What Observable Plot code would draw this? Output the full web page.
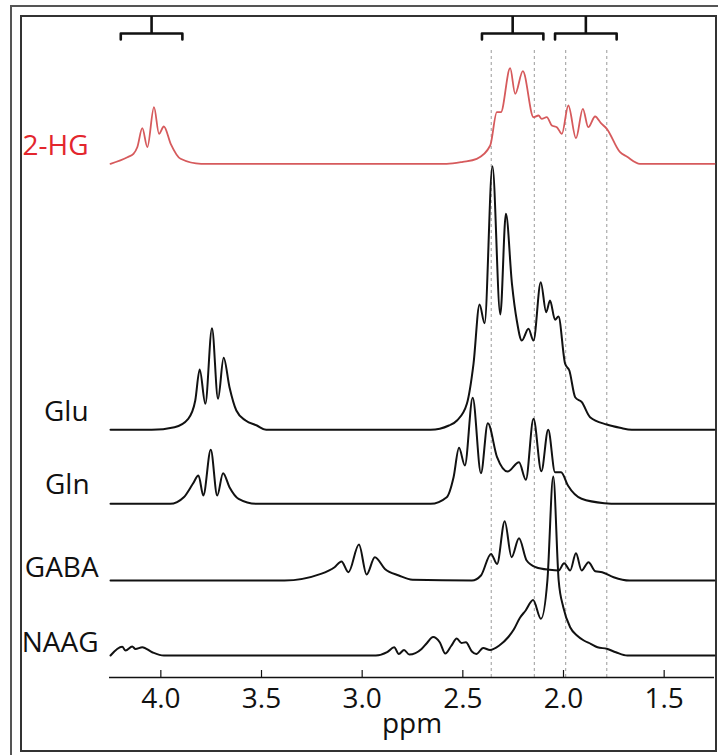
<!DOCTYPE html>
<html><head><meta charset="utf-8">
<script src="https://cdn.jsdelivr.net/npm/d3@7"></script>
<script src="https://cdn.jsdelivr.net/npm/@observablehq/plot@0.6"></script>
<style>
body{margin:0;background:#fff;width:718px;height:755px;overflow:hidden;position:relative;font-family:"Open Sans",sans-serif;}
#outer{position:absolute;left:10px;top:5px;width:720px;height:770px;border:2px solid #555;box-sizing:border-box;}
#inner{position:absolute;left:20px;top:15px;width:697px;height:737px;border:2px solid #333;box-sizing:border-box;}
#chart{position:absolute;left:0;top:0;}
</style></head><body>
<div id="outer"></div><div id="inner"></div><div id="chart"></div>
<script>
// ---- data (ppm, intensity above each trace's baseline) ----
const names = ["2-HG", "Glu", "Gln", "GABA", "NAAG"];
const tickValues = [4.0, 3.5, 3.0, 2.5, 2.0, 1.5];
const dashPpm = [2.359, 2.145, 1.989, 1.785];
const bracketRanges = [[4.199, 3.893], [2.405, 2.100], [2.042, 1.736]];

const hg2 = [[4.25,0],[4.166,6.6],[4.136,10],[4.117,16.6],[4.092,35.6],[4.067,16.6],[4.034,56.6],[4.009,30],[3.985,37.3],[3.951,20],[3.902,5],[3.80,0],[2.58,0],[2.50,2],[2.431,5],[2.364,18.3],[2.331,51.6],[2.311,51.6],[2.265,95.6],[2.240,70],[2.202,92.6],[2.149,46.6],[2.124,48.3],[2.108,45],[2.083,46.6],[2.058,38.3],[2.033,36.6],[2.008,30],[1.976,58.3],[1.938,25.6],[1.904,55],[1.877,36.6],[1.843,47.3],[1.814,40.6],[1.785,35],[1.719,11.6],[1.686,7.3],[1.620,0],[1.25,0]];

const glu = [[4.25,0],[4.045,0],[3.932,2.6],[3.864,11],[3.829,29.3],[3.807,60.3],[3.779,26],[3.746,101.6],[3.716,31],[3.688,72],[3.659,42.6],[3.625,19.3],[3.579,9.3],[3.523,4.3],[3.477,0],[2.660,0],[2.569,4.3],[2.529,9.3],[2.480,26],[2.447,66],[2.417,125.3],[2.392,106.6],[2.353,263.6],[2.314,115.3],[2.286,216],[2.256,146],[2.232,109.3],[2.207,89.3],[2.174,101],[2.149,89.3],[2.113,147.6],[2.086,117.6],[2.067,129.3],[2.042,110],[2.025,113.3],[1.992,66],[1.971,59.3],[1.942,32.6],[1.909,27.6],[1.868,12.6],[1.785,5.3],[1.719,2],[1.661,0],[1.25,0]];

const gln = [[4.25,0],[3.954,0],[3.886,6.6],[3.841,20],[3.813,28.3],[3.789,8.3],[3.752,54],[3.720,8.3],[3.691,30.6],[3.659,16.6],[3.614,5],[3.523,0],[2.660,0],[2.580,6.6],[2.546,26.6],[2.519,56],[2.490,38.3],[2.451,106],[2.410,30.6],[2.376,80.6],[2.330,46.6],[2.278,32.3],[2.221,41.6],[2.187,24],[2.149,85],[2.110,32.6],[2.076,74],[2.042,31.6],[2.012,31.6],[1.978,18.3],[1.910,5],[1.797,0.6],[1.729,0],[1.25,0]];

const gaba = [[4.25,0],[3.386,0],[3.205,6.6],[3.137,13.3],[3.103,19],[3.068,8.3],[3.016,36],[2.978,6],[2.937,23.3],[2.887,11.6],[2.818,5],[2.750,0.7],[2.455,0],[2.410,5],[2.360,26.6],[2.330,16.6],[2.292,59.3],[2.258,23.3],[2.221,42.3],[2.183,20],[2.137,13.3],[2.069,10.7],[2.024,10],[1.997,17.3],[1.967,10],[1.938,27.3],[1.910,10],[1.876,18.3],[1.842,9.3],[1.808,8.3],[1.751,3.3],[1.672,0],[1.25,0]];

const naag = [[4.25,0],[4.192,8.7],[4.175,5],[4.142,9],[4.126,6.5],[4.092,8.3],[4.043,3.3],[3.985,0],[2.932,0],[2.876,3.3],[2.841,8.3],[2.818,1.5],[2.792,5.5],[2.766,1],[2.705,6.5],[2.678,12.5],[2.648,18.5],[2.614,13],[2.587,2],[2.558,9.5],[2.530,17],[2.507,12.5],[2.485,13.3],[2.455,4],[2.433,1.5],[2.399,7.5],[2.365,5.5],[2.319,10],[2.274,18.5],[2.247,26],[2.217,37.5],[2.188,45],[2.151,55.5],[2.112,36.7],[2.080,75],[2.051,179],[2.024,75],[2.001,48.3],[1.967,28.3],[1.933,20],[1.899,15],[1.865,11.7],[1.831,8.3],[1.785,6.7],[1.740,3.3],[1.683,0],[1.25,0]];

// ---- layout (not data) ----
const series = [hg2, glu, gln, gaba, naag];
const offsets = [513.7, 247.7, 173.7, 97, 22];
const colors = ["#d65a5c", "#111", "#111", "#111", "#111"];
const labelColors = ["#e3262d", "#111", "#111", "#111", "#111"];
const labelX = [4.359, 4.359, 4.354, 4.309, 4.309];
const labelY = [17.6, 17.6, 18.3, 12, 12];

const rows = series.map((pts, i) => pts.map(([ppm, v]) => ({name: names[i], ppm, y: v + offsets[i]})));
const labels = names.map((n, i) => ({name: n, x: labelX[i], y: offsets[i] + labelY[i], fill: labelColors[i]}));
const bracketPts = bracketRanges.flatMap(([a, b], i) => [
  {i, ppm: a, y: 638}, {i, ppm: a, y: 644}, {i, ppm: b, y: 644}, {i, ppm: b, y: 638}
]);

const chart = Plot.plot({
  width: 718, height: 755,
  marginLeft: 109, marginRight: 4, marginTop: 16, marginBottom: 78,
  style: {background: "transparent", fontFamily: "Open Sans, sans-serif"},
  x: {domain: [4.255, 1.25], axis: null},
  y: {domain: [0, 661], axis: null},
  marks: [
    Plot.ruleX(dashPpm, {x: d => d, y1: 0, y2: 627, stroke: "#9a9a9a", strokeWidth: 1, strokeDasharray: "3,3"}),
    ...rows.map((r, i) => Plot.line(r, {x: "ppm", y: "y", stroke: colors[i], strokeWidth: i === 0 ? 1.8 : 2, curve: "monotone-x"})),
    Plot.ruleY([0], {stroke: "#111", strokeWidth: 1.5}),
    Plot.ruleX(tickValues, {x: d => d, y1: 0, y2: 7, stroke: "#111", strokeWidth: 1.2}),
    Plot.text(tickValues, {x: d => d, y: 0, dy: 22, text: d => d.toFixed(1), fontSize: 28, fill: "#111"}),
    Plot.text(["ppm"], {frameAnchor: "bottom", dy: 55, text: d => d, fontSize: 28, fill: "#111"}),
    Plot.line(bracketPts, {x: "ppm", y: "y", z: "i", stroke: "#111", strokeWidth: 2.6, strokeLinejoin: "round"}),
    Plot.ruleX(bracketRanges, {x: d => (d[0] + d[1]) / 2, y1: 644, y2: 661, stroke: "#111", strokeWidth: 2.6}),
    Plot.text(labels, {x: "x", y: "y", text: "name", fill: "fill", textAnchor: "end", fontSize: 28})
  ]
});
document.getElementById("chart").appendChild(chart);
</script></body></html>
